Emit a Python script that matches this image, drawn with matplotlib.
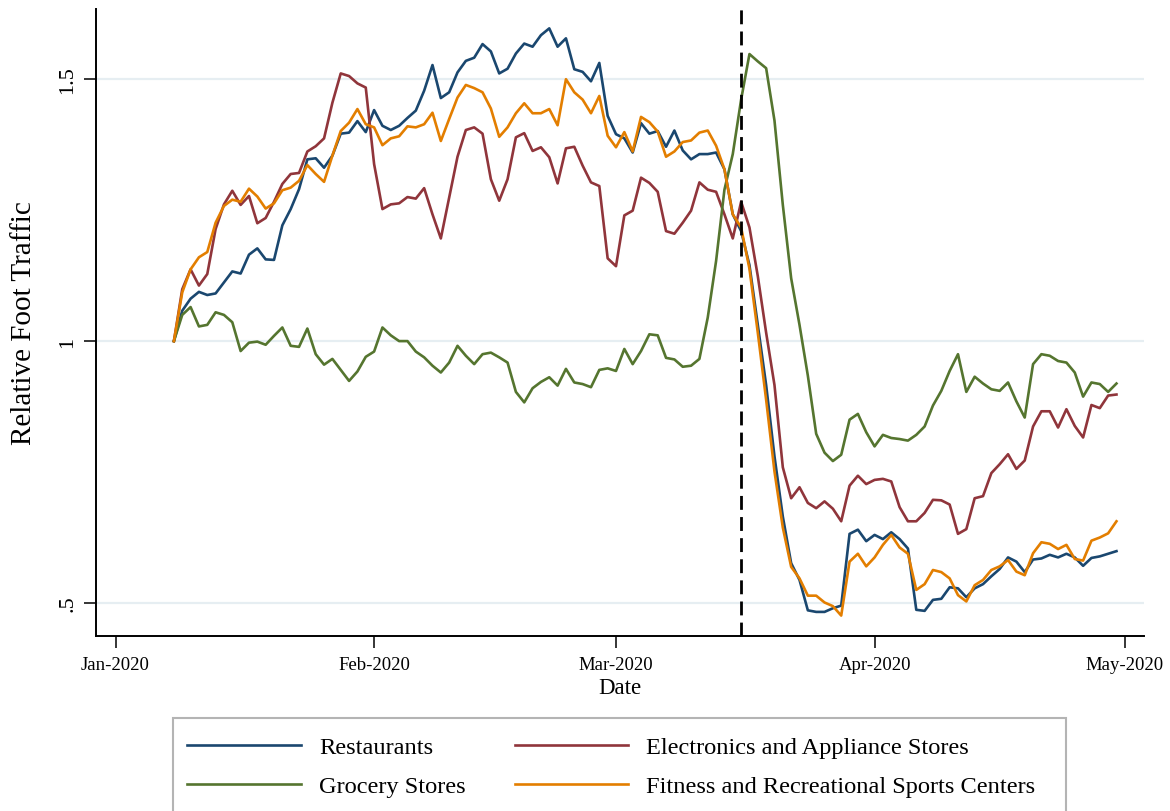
import pandas as pd
import matplotlib
matplotlib.use('Agg')
import matplotlib.pyplot as plt
import matplotlib.dates as mdates
from matplotlib.patches import Rectangle

plt.rcParams['font.family'] = 'serif'
plt.rcParams['font.serif'] = ['Liberation Serif', 'DejaVu Serif']

# daily series, 2020-01-08 .. 2020-04-30
dates = pd.date_range('2020-01-08', '2020-04-30', freq='D')

restaurants = [
    1.000, 1.058, 1.081, 1.094, 1.088, 1.091, 1.112, 1.133, 1.129, 1.165,
    1.177, 1.156, 1.155, 1.221, 1.252, 1.290, 1.347, 1.349, 1.331, 1.354,
    1.396, 1.398, 1.420, 1.399, 1.441, 1.411, 1.403, 1.411, 1.426, 1.440,
    1.478, 1.527, 1.464, 1.475, 1.513, 1.535, 1.541, 1.567, 1.553, 1.511,
    1.520, 1.549, 1.568, 1.562, 1.584, 1.597, 1.562, 1.578, 1.519, 1.514,
    1.496, 1.531, 1.430, 1.395, 1.387, 1.360, 1.416, 1.396, 1.401, 1.371,
    1.402, 1.364, 1.347, 1.357, 1.357, 1.360, 1.328, 1.242, 1.210, 1.145,
    1.031, 0.916, 0.780, 0.665, 0.576, 0.544, 0.486, 0.483, 0.483, 0.490,
    0.495, 0.632, 0.640, 0.618, 0.630, 0.622, 0.635, 0.622, 0.604, 0.487,
    0.485, 0.506, 0.508, 0.530, 0.528, 0.511, 0.528, 0.536, 0.551, 0.565,
    0.587, 0.579, 0.559, 0.583, 0.585, 0.592, 0.587, 0.594, 0.587, 0.571,
    0.586, 0.589, 0.594, 0.599,
]
electronics = [
    1.000, 1.099, 1.137, 1.106, 1.128, 1.214, 1.261, 1.287, 1.260, 1.277,
    1.225, 1.235, 1.266, 1.300, 1.319, 1.321, 1.362, 1.372, 1.387, 1.455,
    1.511, 1.506, 1.492, 1.484, 1.338, 1.252, 1.261, 1.263, 1.275, 1.272,
    1.292, 1.242, 1.196, 1.274, 1.352, 1.403, 1.408, 1.396, 1.309, 1.268,
    1.309, 1.389, 1.397, 1.363, 1.370, 1.351, 1.301, 1.368, 1.371, 1.335,
    1.303, 1.296, 1.158, 1.143, 1.240, 1.249, 1.312, 1.302, 1.285, 1.210,
    1.205, 1.226, 1.249, 1.303, 1.289, 1.285, 1.242, 1.196, 1.266, 1.217,
    1.124, 1.016, 0.916, 0.759, 0.700, 0.721, 0.691, 0.681, 0.694, 0.680,
    0.656, 0.724, 0.743, 0.727, 0.735, 0.737, 0.732, 0.683, 0.656, 0.656,
    0.672, 0.697, 0.696, 0.688, 0.632, 0.641, 0.700, 0.704, 0.748, 0.765,
    0.784, 0.756, 0.772, 0.837, 0.866, 0.866, 0.835, 0.870, 0.838, 0.816,
    0.878, 0.872, 0.896, 0.898,
]
grocery = [
    1.000, 1.050, 1.065, 1.028, 1.031, 1.055, 1.050, 1.036, 0.981, 0.997,
    0.999, 0.993, 1.010, 1.026, 0.991, 0.989, 1.024, 0.975, 0.955, 0.966,
    0.945, 0.924, 0.942, 0.970, 0.980, 1.026, 1.011, 1.000, 1.000, 0.980,
    0.969, 0.953, 0.940, 0.959, 0.991, 0.972, 0.956, 0.975, 0.978, 0.969,
    0.959, 0.903, 0.883, 0.910, 0.922, 0.931, 0.915, 0.947, 0.921, 0.918,
    0.912, 0.945, 0.948, 0.943, 0.985, 0.956, 0.981, 1.013, 1.011, 0.968,
    0.965, 0.951, 0.953, 0.966, 1.045, 1.153, 1.289, 1.357, 1.461, 1.548,
    1.534, 1.521, 1.421, 1.260, 1.120, 1.031, 0.934, 0.823, 0.787, 0.771,
    0.783, 0.850, 0.861, 0.826, 0.799, 0.821, 0.815, 0.813, 0.810, 0.821,
    0.837, 0.877, 0.905, 0.943, 0.975, 0.903, 0.932, 0.919, 0.908, 0.905,
    0.921, 0.885, 0.854, 0.956, 0.975, 0.972, 0.962, 0.959, 0.940, 0.894,
    0.921, 0.918, 0.903, 0.919,
]
fitness = [
    1.000, 1.093, 1.137, 1.160, 1.170, 1.226, 1.258, 1.270, 1.266, 1.291,
    1.276, 1.253, 1.263, 1.288, 1.293, 1.306, 1.336, 1.319, 1.304, 1.354,
    1.401, 1.417, 1.443, 1.414, 1.408, 1.374, 1.387, 1.391, 1.410, 1.408,
    1.414, 1.436, 1.382, 1.424, 1.465, 1.489, 1.483, 1.475, 1.444, 1.390,
    1.408, 1.435, 1.454, 1.435, 1.435, 1.443, 1.412, 1.500, 1.475, 1.461,
    1.435, 1.468, 1.392, 1.370, 1.399, 1.362, 1.428, 1.418, 1.400, 1.352,
    1.362, 1.380, 1.383, 1.398, 1.402, 1.373, 1.328, 1.242, 1.217, 1.138,
    1.016, 0.888, 0.751, 0.644, 0.569, 0.547, 0.514, 0.514, 0.501, 0.494,
    0.476, 0.579, 0.594, 0.570, 0.587, 0.611, 0.630, 0.606, 0.594, 0.525,
    0.536, 0.563, 0.559, 0.547, 0.515, 0.503, 0.534, 0.544, 0.563, 0.570,
    0.582, 0.560, 0.553, 0.595, 0.616, 0.613, 0.603, 0.611, 0.584, 0.581,
    0.619, 0.625, 0.633, 0.656,
]

series_names = ['Restaurants', 'Electronics and Appliance Stores',
                'Grocery Stores', 'Fitness and Recreational Sports Centers']
series_colors = ['#1a476f', '#90353b', '#55752f', '#e37e00']

tick_dates = pd.to_datetime(['2020-01-01', '2020-02-01', '2020-03-01',
                             '2020-04-01', '2020-05-01'])
tick_labels = ['Jan-2020', 'Feb-2020', 'Mar-2020', 'Apr-2020', 'May-2020']
y_ticks = [0.5, 1.0, 1.5]
y_tick_labels = ['.5', '1', '1.5']
event_date = pd.Timestamp('2020-03-16')

fig = plt.figure(figsize=(11.7, 8.12), dpi=100)
ax = fig.add_axes([96 / 1170, 1 - 637 / 812, 1048 / 1170, 627 / 812])

handles = []
for vals, name, col in zip([restaurants, electronics, grocery, fitness],
                           series_names, series_colors):
    h, = ax.plot(dates, vals, color=col, lw=1.9, label=name, zorder=3)
    handles.append(h)

ax.axvline(event_date, color='black', lw=2.0, dashes=(5, 2.6), zorder=4)

jan1 = mdates.date2num(pd.Timestamp('2020-01-01'))
ax.set_xlim(jan1 - 2.34, jan1 + 123.3)
ax.set_ylim(0.437, 1.634)

ax.set_yticks(y_ticks)
ax.set_yticklabels(y_tick_labels, rotation=90, va='center', fontsize=16)
ax.set_xticks(tick_dates)
ax.set_xticklabels(tick_labels, fontsize=13.5)
ax.tick_params(axis='both', length=8.5, width=1.1, direction='out')
ax.tick_params(axis='x', pad=6)
ax.tick_params(axis='y', pad=5)

ax.grid(axis='y', color='#e6eef2', lw=1.6, zorder=0)
ax.set_axisbelow(True)
for side in ['top', 'right']:
    ax.spines[side].set_visible(False)
for side in ['left', 'bottom']:
    ax.spines[side].set_linewidth(1.4)

ax.set_ylabel('Relative Foot Traffic', fontsize=21)
ax.yaxis.set_label_coords(-0.056, 0.5)
ax.set_xlabel('Date', fontsize=16.5)
ax.xaxis.set_label_coords(0.5, -0.066)

# legend frame, runs off the bottom edge like in the original
fig.patches.append(Rectangle((173 / 1170, -0.05), (1066 - 173) / 1170,
                             0.05 + (812 - 719) / 812,
                             transform=fig.transFigure, fill=False,
                             edgecolor='#b4b4b4', lw=1.5))
order = [0, 2, 1, 3]
fig.legend([handles[i] for i in order], [series_names[i] for i in order],
           ncol=2, loc='upper left', bbox_to_anchor=(169 / 1170, 1 - 719 / 812),
           frameon=False, fontsize=17.6, handlelength=4.63, handletextpad=0.76,
           columnspacing=2.0, borderpad=0.75, labelspacing=0.68,
           borderaxespad=0)

fig.savefig('out.png', dpi=100)
